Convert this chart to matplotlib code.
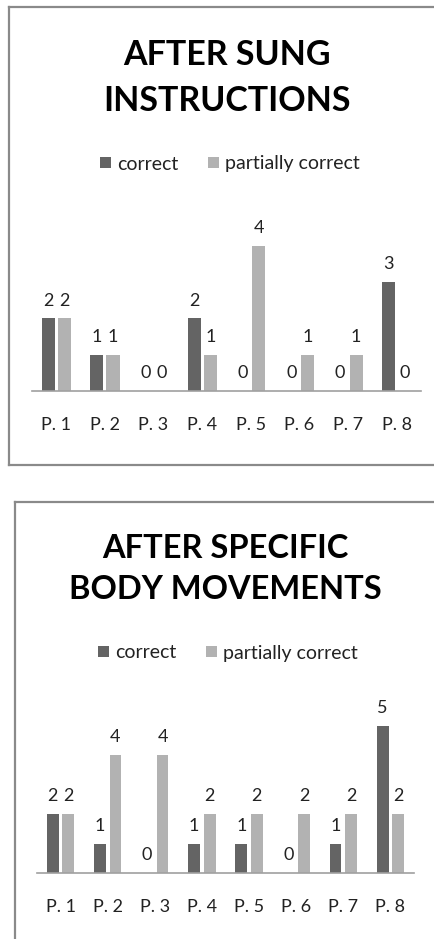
import matplotlib.pyplot as plt
from matplotlib.lines import Line2D
import numpy as np

# data
participants = ['P. 1', 'P. 2', 'P. 3', 'P. 4', 'P. 5', 'P. 6', 'P. 7', 'P. 8']
series_names = ['correct', 'partially correct']

sung_correct = [2, 1, 0, 2, 0, 0, 0, 3]
sung_partial = [2, 1, 0, 1, 4, 1, 1, 0]

body_correct = [2, 1, 0, 1, 1, 0, 1, 5]
body_partial = [2, 4, 4, 2, 2, 2, 2, 2]

DARK = '#646464'
LIGHT = '#b2b2b2'
BORDER = '#8a8a8a'
W, H = 434, 939

plt.rcParams['font.family'] = ['Lato', 'DejaVu Sans']

fig = plt.figure(figsize=(W / 100, H / 100), dpi=100)


def px(x, y):
    """pixel (from top-left) -> figure fraction"""
    return x / W, 1 - y / H


def frame(x0, y0, y1, bottom=True):
    # right side is cut off in the source
    fx0, fy0 = px(x0, y0)
    _, fy1 = px(x0, y1)
    kw = dict(color=BORDER, lw=1.6, transform=fig.transFigure)
    fig.add_artist(Line2D([fx0, fx0], [fy0, fy1], **kw))
    fig.add_artist(Line2D([fx0, 1], [fy0, fy0], **kw))
    if bottom:
        fig.add_artist(Line2D([fx0, 1], [fy1, fy1], **kw))


def bar_panel(left, right, base, unit, ymax, correct, partial, width):
    top = base - unit * ymax
    l, b = px(left, base)
    ax = fig.add_axes([l, b, (right - left) / W, (base - top) / H])
    x = np.arange(len(participants))
    off = 0.165
    b1 = ax.bar(x - off, correct, width, color=DARK, label=series_names[0])
    b2 = ax.bar(x + off, partial, width, color=LIGHT, label=series_names[1])
    for bars in (b1, b2):
        for rect in bars:
            v = rect.get_height()
            ax.annotate(f'{v:g}', (rect.get_x() + rect.get_width() / 2, v),
                        xytext=(0, 7), textcoords='offset points',
                        ha='center', va='bottom', fontsize=13, color='#222222')
    ax.set_xlim(-0.5, len(participants) - 0.5)
    ax.set_ylim(0, ymax)
    ax.set_xticks(x)
    ax.set_xticklabels(participants, fontsize=13, color='#222222')
    ax.tick_params(axis='x', length=0, pad=19)
    ax.set_yticks([])
    for s in ['top', 'right', 'left']:
        ax.spines[s].set_visible(False)
    ax.spines['bottom'].set_color('#a0a0a0')
    ax.spines['bottom'].set_linewidth(1.2)
    return ax


def legend_at(ax, x, y):
    fx, fy = px(x, y)
    fig.legend(*ax.get_legend_handles_labels(), loc='center',
               bbox_to_anchor=(fx, fy), ncol=2, frameon=False,
               fontsize=14, handlelength=0.55, handleheight=0.55,
               handletextpad=0.35, columnspacing=1.5, labelcolor='#222222')


# top chart
frame(9, 7, 465)
fig.text(*px(227, 78), 'AFTER SUNG\nINSTRUCTIONS', ha='center', va='center',
         fontsize=24.5, fontweight='bold', linespacing=1.55)
ax1 = bar_panel(32, 421, 391, 36.3, 5, sung_correct, sung_partial, 0.27)
legend_at(ax1, 230, 164)

# bottom chart
frame(15, 502, 939, bottom=False)
fig.text(*px(225, 569), 'AFTER SPECIFIC\nBODY MOVEMENTS', ha='center', va='center',
         fontsize=23.5, fontweight='bold', linespacing=1.5)
ax2 = bar_panel(37, 414, 873, 29.5, 6, body_correct, body_partial, 0.25)
legend_at(ax2, 228, 653)

fig.savefig('out.png', dpi=100)
